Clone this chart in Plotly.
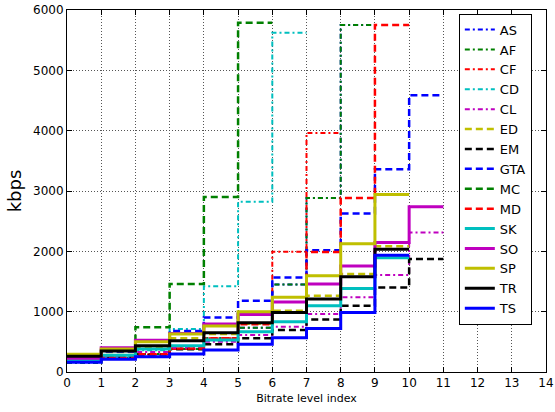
import plotly.graph_objects as go

# Bitrate ladders (kbps) per bitrate level index
names = ["AS", "AF", "CF", "CD", "CL", "ED", "EM", "GTA", "MC", "MD", "SK", "SO", "SP", "TR", "TS"]

AS = [150, 230, 300, 380, 560, 733, 1452, 2886, 5750]
AF = [150, 230, 300, 380, 560, 733, 1452, 2886, 5750]
CF = [190, 237, 290, 380, 560, 990, 1992, 3962]
CD = [180, 250, 360, 712, 1420, 2820, 5625]
CL = [200, 260, 330, 400, 500, 612, 750, 960, 1237, 1606, 2313]
ED = [250, 330, 420, 560, 630, 800, 1015, 1264, 1623, 2086]
EM = [180, 240, 290, 376, 458, 558, 695, 872, 1098, 1402, 1871]
GTA = [250, 340, 510, 679, 905, 1181, 1568, 2020, 2627, 3361, 4586]
MC = [180, 370, 740, 1460, 2902, 5788]
MD = [200, 237, 293, 390, 560, 790, 985, 1990, 2886, 5750]
SK = [200, 276, 381, 435, 530, 667, 833, 1098, 1386, 1892]
SO = [227, 402, 525, 640, 795, 955, 1160, 1457, 1755, 2147, 2737]
SP = [293, 381, 500, 629, 762, 999, 1237, 1595, 2125, 2942]
TR = [260, 348, 435, 518, 651, 816, 988, 1209, 1578, 2036]
TS = [160, 210, 253, 298, 364, 458, 568, 723, 988, 1937]

series = [AS, AF, CF, CD, CL, ED, EM, GTA, MC, MD, SK, SO, SP, TR, TS]

colors = ["#0000ff", "#008000", "#ff0000", "#00bfbf", "#bf00bf", "#bfbf00", "#000000"]
DASHDOT = "5px,3px,2px,3px"
DASH = "7px,4px"
styles = ([(DASHDOT, 2)] * 5) + ([(DASH, 2.5)] * 5) + ([("solid", 3)] * 5)

fig = go.Figure()
for i, (name, vals) in enumerate(zip(names, series)):
    xs = list(range(len(vals) + 1))
    ys = list(vals) + [vals[-1]]
    dash, w = styles[i]
    fig.add_trace(go.Scatter(
        x=xs, y=ys, name=name, mode="lines",
        line=dict(shape="hv", color=colors[i % 7], width=w, dash=dash),
    ))

axis_common = dict(
    showline=True, linecolor="black", linewidth=1, mirror="allticks",
    ticks="inside", ticklen=5, tickcolor="black",
    showgrid=True, gridcolor="#555555", gridwidth=1, griddash="1px,2px",
    zeroline=False, tickfont=dict(size=12, color="black"),
    automargin=False,
)

fig.update_layout(
    width=555, height=412,
    margin=dict(l=67, r=9, t=10, b=40),
    paper_bgcolor="white", plot_bgcolor="white",
    font=dict(family="DejaVu Sans", color="black"),
    xaxis=dict(range=[0, 14], dtick=1, tick0=0,
               title=dict(text="Bitrate level index", font=dict(size=11), standoff=4),
               **axis_common),
    yaxis=dict(range=[0, 6000], dtick=1000, tick0=0,
               title=dict(text="kbps", font=dict(size=18), standoff=6),
               **axis_common),
    legend=dict(
        x=0.818, y=0.99, xanchor="left", yanchor="top",
        bgcolor="white", bordercolor="black", borderwidth=1,
        font=dict(size=13, color="black"),
        tracegroupgap=0, itemwidth=30,
    ),
    showlegend=True,
)

fig.write_html("out.html")
